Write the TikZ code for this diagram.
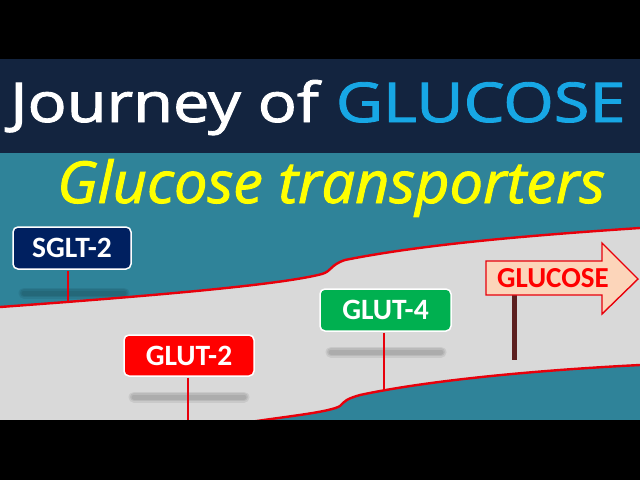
\documentclass[tikz,border=0pt]{standalone}
\usepackage{fontspec}
\setmainfont{Carlito}
\newfontfamily\titlefont{Open Sans}[FakeBold=1.6]
\usepackage{graphicx}
\definecolor{navyband}{HTML}{13243F}
\definecolor{tealbg}{HTML}{2F8399}
\definecolor{grayband}{HTML}{D9D9D9}
\definecolor{titlecyan}{HTML}{17A7E5}
\definecolor{subyellow}{HTML}{FFFF00}
\definecolor{sgltblue}{HTML}{002060}
\definecolor{glutred}{HTML}{FF0000}
\definecolor{glutgreen}{HTML}{00B050}
\definecolor{signfill}{HTML}{FCD5BA}
\definecolor{postbrown}{HTML}{5C1F1F}
\definecolor{memred}{HTML}{E8000B}
\tikzset{
  labelbox/.style={draw=white, line width=1.5pt, rounded corners=5pt, text=white,
    font=\bfseries\fontsize{29.5}{29.5}\selectfont, inner sep=0pt},
  stem/.style={draw=memred, line width=1.8pt},
  membrane/.style={draw=memred, line width=2.4pt},
  shadowline/.style={line cap=round, draw=black, opacity=0.07},
}
\newcommand{\blurshadow}[3]{%
  \draw[shadowline, line width=11pt] (#1,#3) -- (#2,#3);
  \draw[shadowline, line width=8pt] (#1,#3) -- (#2,#3);
  \draw[shadowline, line width=5pt] (#1,#3) -- (#2,#3);
}
\begin{document}
\begin{tikzpicture}[x=1pt,y=-1pt]
\useasboundingbox (0,0) rectangle (640,480);
% backgrounds
\fill[black] (0,0) rectangle (640,60);
\fill[navyband] (0,59) rectangle (640,154);
\fill[tealbg] (0,153) rectangle (640,421);
% gray band
\fill[grayband] (0,307) .. controls (150,296) and (280,285) .. (322,274)
   .. controls (332,271) and (330,265) .. (345,260)
   .. controls (420,245) and (520,236) .. (640,228)
   -- (640,365) .. controls (540,370) and (430,380) .. (360,395)
   .. controls (346,399) and (345,401) .. (340,406)
   .. controls (330,412) and (290,416) .. (250,422)
   -- (0,422) -- cycle;
% shadows
\blurshadow{24}{124}{293}
\blurshadow{134}{244}{397}
\blurshadow{331}{441}{352}
% membranes
\draw[membrane] (0,307) .. controls (150,296) and (280,285) .. (322,274)
   .. controls (332,271) and (330,265) .. (345,260)
   .. controls (420,245) and (520,236) .. (640,228);
\draw[membrane] (640,365) .. controls (540,370) and (430,380) .. (360,395)
   .. controls (346,399) and (345,401) .. (340,406)
   .. controls (330,412) and (290,416) .. (250,422);
% titles
\node[anchor=base west, inner sep=0pt] (title) at (10,122)
  {\resizebox{615pt}{42pt}{\titlefont\textcolor{white}{Journey of }\textcolor{titlecyan}{GLUCOSE}}};
\node[anchor=base west, inner sep=0pt] (subtitle) at (57,203)
  {\resizebox{548pt}{44pt}{\titlefont\itshape\textcolor{subyellow}{Glucose transporters}}};
% anchors on membranes
\coordinate (sgltfoot) at (68,303);
\coordinate (glut2foot) at (188,421);
\coordinate (glut4foot) at (384,389);
% label boxes
\node[labelbox, fill=sgltblue, minimum width=118pt, minimum height=42pt] (sglt) at (72,248) {SGLT-2};
\node[labelbox, fill=glutred, minimum width=130pt, minimum height=41pt] (glut2) at (189,355.5) {GLUT-2};
\node[labelbox, fill=glutgreen, minimum width=131pt, minimum height=42pt] (glut4) at (385.5,310) {GLUT-4};
\draw[stem] ([yshift=-0.8pt]sglt.south -| sgltfoot) -- (sgltfoot);
\draw[stem] ([yshift=-0.8pt]glut2.south -| glut2foot) -- (glut2foot);
\draw[stem] ([yshift=-0.8pt]glut4.south -| glut4foot) -- (glut4foot);
% glucose sign
\coordinate (postfoot) at (514,360);
\draw[postbrown, line width=5pt] (514,295) -- (postfoot);
\draw[fill=signfill, draw=memred, line width=1.4pt]
  (486,261) -- (602,261) -- (602,243) -- (638,279) -- (602,314) -- (602,295) -- (486,295) -- cycle;
\node[text=glutred, font=\bfseries\fontsize{29}{29}\selectfont, inner sep=0pt] (glucose) at (553,278) {GLUCOSE};
% bottom bar
\fill[black] (0,420) rectangle (640,480);
\end{tikzpicture}
\end{document}
